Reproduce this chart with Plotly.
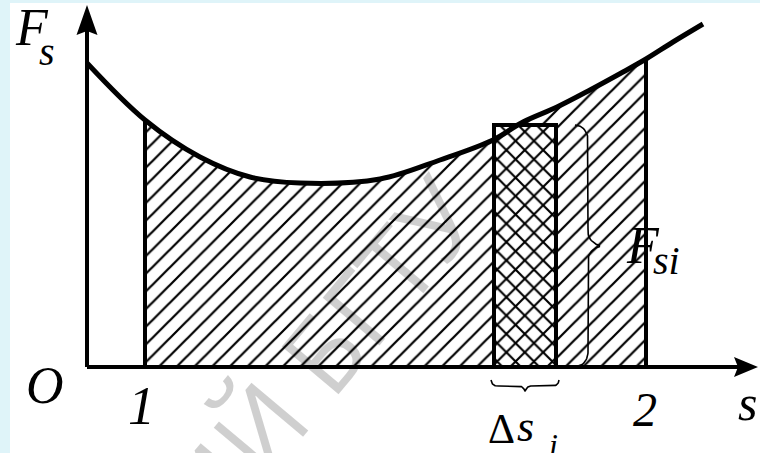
import numpy as np
import plotly.graph_objects as go

# curve F_s(s) (1 unit = 10 px, origin at O)
s_curve = [0.0, 5.8, 11.3, 16.3, 21.3, 29.3, 35.3, 40.6, 43.6, 47.0, 50.3, 53.6, 55.9, 58.6, 61.6]
f_curve = [30.4, 24.7, 21.0, 19.0, 18.4, 18.8, 20.7, 22.7, 24.5, 26.0, 27.7, 29.5, 30.8, 32.5, 34.3]

# limits of the hatched region: points 1 and 2 on the curve
i_start = 1
i_end = 12

# the small strip delta s_i and its height F_si
ds_left = 40.7
ds_right = 46.9
f_si = 24.2

# axis ends
s_axis_end = 67.1
f_axis_end = 36.2

serif = "Liberation Serif"


def brace(length, depth, spine, r_end, r_tip, n=200):
    # a curly brace along u in [0, length], bulging towards +v
    u = np.linspace(0, length, n)
    h = np.minimum(u, length - u)
    v = np.full_like(u, spine)
    end = h < r_end
    v[end] = spine * np.sqrt(1 - (1 - h[end] / r_end) ** 2)
    tip = h > length / 2 - r_tip
    t = np.clip((h[tip] - (length / 2 - r_tip)) / r_tip, 0, 1)
    v[tip] = spine + (depth - spine) * (1 - np.sqrt(1 - t ** 2))
    return u, v


fig = go.Figure()

# hatched area under the curve between 1 and 2
fig.add_trace(go.Scatter(
    x=s_curve[i_start:i_end + 1], y=f_curve[i_start:i_end + 1],
    mode="lines", line=dict(width=0, shape="spline", color="black"),
    fill="tozeroy", fillcolor="white",
    fillpattern=dict(shape="/", fgcolor="#000000", fgopacity=1, bgcolor="white",
                     size=12.5, solidity=0.18),
    hoverinfo="skip", cliponaxis=False))

# cross-hatched strip
fig.add_trace(go.Scatter(
    x=[ds_left, ds_left, ds_right, ds_right, ds_left], y=[0, f_si, f_si, 0, 0],
    mode="lines", line=dict(width=4, color="black"),
    fill="toself", fillcolor="white",
    fillpattern=dict(shape="x", fgcolor="#000000", fgopacity=1, bgcolor="white",
                     size=13, solidity=0.3),
    hoverinfo="skip", cliponaxis=False))

# vertical bounds at 1 and 2
for i in (i_start, i_end):
    fig.add_trace(go.Scatter(
        x=[s_curve[i], s_curve[i]], y=[0, f_curve[i]], mode="lines",
        line=dict(width=4, color="black"), hoverinfo="skip", cliponaxis=False))

# the curve
fig.add_trace(go.Scatter(
    x=s_curve, y=f_curve, mode="lines",
    line=dict(width=5, color="black", shape="spline"),
    hoverinfo="skip", cliponaxis=False))

# brace for F_si (vertical, to the right of the strip)
u, v = brace(f_si, 2.9, 1.3, 1.5, 1.4)
fig.add_trace(go.Scatter(
    x=48.8 + v, y=u, mode="lines", line=dict(width=1.6, color="black"),
    hoverinfo="skip", cliponaxis=False))

# brace for delta s_i (below the axis)
u, v = brace(ds_right - ds_left + 0.6, 1.3, 0.6, 0.6, 0.6)
fig.add_trace(go.Scatter(
    x=ds_left - 0.3 + u, y=-1.3 - v, mode="lines", line=dict(width=1.6, color="black"),
    hoverinfo="skip", cliponaxis=False))

# axes with arrow heads
shapes = [
    dict(type="line", x0=0, y0=0, x1=s_axis_end - 1.5, y1=0, line=dict(width=4, color="black")),
    dict(type="line", x0=0, y0=0, x1=0, y1=f_axis_end - 1.5, line=dict(width=4, color="black")),
    dict(type="path", fillcolor="black", line=dict(width=0),
         path=f"M {s_axis_end},0 L {s_axis_end - 2.4},1.0 L {s_axis_end - 2.0},0 "
              f"L {s_axis_end - 2.4},-1.0 Z"),
    dict(type="path", fillcolor="black", line=dict(width=0),
         path=f"M 0,{f_axis_end} L 1.05,{f_axis_end - 3.0} L 0,{f_axis_end - 2.6} "
              f"L -1.05,{f_axis_end - 3.0} Z"),
]


def label(x, y, text, size, italic=True):
    return dict(x=x, y=y, xref="x", yref="y", text=f"<i>{text}</i>" if italic else text,
                showarrow=False, xanchor="center", yanchor="middle",
                font=dict(family=serif, size=size, color="black"))


annotations = [
    # watermark
    dict(x=23.1, y=1.2, xref="x", yref="y", text="ИЙ БГТУ", showarrow=False,
         textangle=-50, xanchor="center", yanchor="middle",
         font=dict(family="Open Sans", size=104, color="rgba(0,0,0,0.19)")),
    label(-5.5, 33.95, "F", 52),
    label(-4.0, 31.6, "s", 40),
    label(-4.2, -1.8, "O", 52),
    label(s_curve[i_start] - 0.4, -3.9, "1", 54),
    label(s_curve[i_end] - 0.1, -4.2, "2", 48),
    label(66.0, -3.6, "s", 50),
    label(41.4, -6.2, "Δ", 42, italic=False),
    label(43.8, -5.9, "s", 44),
    label(46.6, -7.8, "i", 32),
    label(55.6, 12.2, "F", 52),
    label(57.9, 10.7, "si", 40),
]

fig.update_layout(
    width=760, height=453,
    margin=dict(l=10, r=0, t=3, b=0),
    paper_bgcolor="#dff4f9", plot_bgcolor="white",
    showlegend=False,
    xaxis=dict(range=[-7.7, 67.3], visible=False, fixedrange=True),
    yaxis=dict(range=[-8.6, 36.4], visible=False, fixedrange=True),
    shapes=shapes,
    annotations=annotations,
)

fig.write_html("out.html", config={"displayModeBar": False},
               post_script="document.body.style.margin = '0px';")
